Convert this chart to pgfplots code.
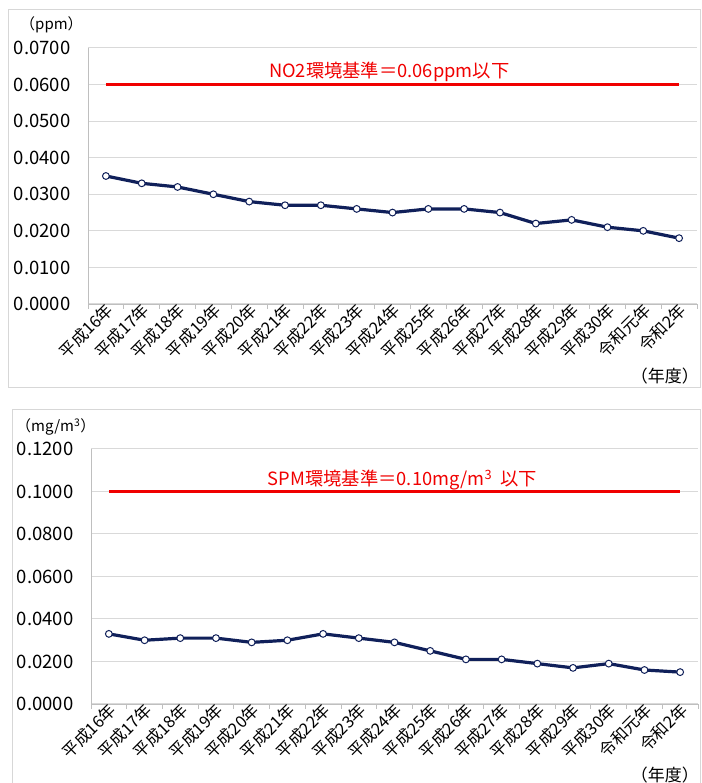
\documentclass[border=0pt]{standalone}
\usepackage{fontspec}
\setmainfont{Noto Sans CJK JP}
\usepackage{pgfplots}
\pgfplotsset{compat=1.18}
\definecolor{navy}{RGB}{16,32,90}
\definecolor{gridc}{RGB}{217,217,217}
\definecolor{axc}{RGB}{191,191,191}
\definecolor{frm}{RGB}{215,215,215}
\definecolor{stdred}{RGB}{240,0,0}
\pgfplotsset{
  panel/.style={
    scale only axis,
    anchor=south west,
    xmin=-0.5, xmax=16.5, ymin=0,
    axis lines*=left,
    axis line style={axc, line width=0.8pt},
    ymajorgrids,
    major grid style={gridc, line width=1pt},
    xtick={0,...,16},
    minor xtick={-0.5,0.5,...,16.5},
    xticklabels={平成16年,平成17年,平成18年,平成19年,平成20年,平成21年,平成22年,平成23年,平成24年,平成25年,平成26年,平成27年,平成28年,平成29年,平成30年,令和元年,令和2年},
    major tick length=0pt,
    minor tick length=5pt,
    tick align=outside,
    tick style={axc, line width=0.8pt},
    scaled y ticks=false,
    xticklabel style={rotate=45, anchor=east, font=\fontsize{16.5pt}{18pt}\selectfont, inner sep=1pt, yshift=-5pt, xshift=2pt},
    yticklabel style={font=\fontsize{18.5pt}{21pt}\selectfont, xshift=-14pt},
    /pgf/number format/.cd, fixed, fixed zerofill, precision=4, assume math mode=true,
    /pgfplots/.cd,
    clip=false,
  },
  dataline/.style={navy, line width=3.2pt, mark=*, mark size=3.4pt, mark options={fill=white, draw=navy, line width=1pt}},
  stdline/.style={stdred, line width=3pt},
}
\begin{document}
\begin{tikzpicture}[x=1pt,y=1pt]
\useasboundingbox (0,0) rectangle (701pt,783pt);
\draw[frm, line width=1pt] (8pt,395.5pt) rectangle (700.5pt,773pt);
\draw[frm, line width=1pt] (12.5pt,-2pt) -- (12.5pt,373pt) -- (700.5pt,373pt) -- (700.5pt,-2pt);

\begin{axis}[panel, at={(88pt,479pt)}, width=609pt, height=256pt,
  ymax=0.07, ytick={0,0.01,0.02,0.03,0.04,0.05,0.06,0.07}]
  \addplot[stdline] coordinates {(0,0.06) (16,0.06)};
  \addplot[dataline] coordinates {
    (0,0.035) (1,0.033) (2,0.032) (3,0.030) (4,0.028) (5,0.027) (6,0.027) (7,0.026) (8,0.025)
    (9,0.026) (10,0.026) (11,0.025) (12,0.022) (13,0.023) (14,0.021) (15,0.020) (16,0.018)};
  \node[anchor=west, text=stdred, font=\fontsize{18.3pt}{20pt}\selectfont, inner sep=0pt] at (axis cs:4.55,0.0636) {NO2環境基準＝0.06ppm以下};
\end{axis}
\node[anchor=west, font=\fontsize{15pt}{17pt}\selectfont, inner sep=0pt] at (20pt,758pt) {（ppm）};
\node[anchor=east, font=\fontsize{17pt}{19pt}\selectfont, inner sep=0pt] at (699pt,407pt) {（年度）};

\begin{axis}[panel, at={(91pt,79pt)}, width=607pt, height=255pt,
  ymax=0.12, ytick={0,0.02,0.04,0.06,0.08,0.10,0.12}]
  \addplot[stdline] coordinates {(0,0.10) (16,0.10)};
  \addplot[dataline] coordinates {
    (0,0.033) (1,0.030) (2,0.031) (3,0.031) (4,0.029) (5,0.030) (6,0.033) (7,0.031) (8,0.029)
    (9,0.025) (10,0.021) (11,0.021) (12,0.019) (13,0.017) (14,0.019) (15,0.016) (16,0.015)};
  \node[anchor=west, text=stdred, font=\fontsize{18.3pt}{20pt}\selectfont, inner sep=0pt] at (axis cs:4.45,0.1054) {SPM環境基準＝0.10mg/m\textsuperscript{3}\ \ 以下};
\end{axis}
\node[anchor=west, font=\fontsize{15pt}{17pt}\selectfont, inner sep=0pt] at (16pt,356pt) {（mg/m\textsuperscript{3}）};
\node[anchor=east, font=\fontsize{17pt}{19pt}\selectfont, inner sep=0pt] at (699pt,8pt) {（年度）};
\end{tikzpicture}
\end{document}
